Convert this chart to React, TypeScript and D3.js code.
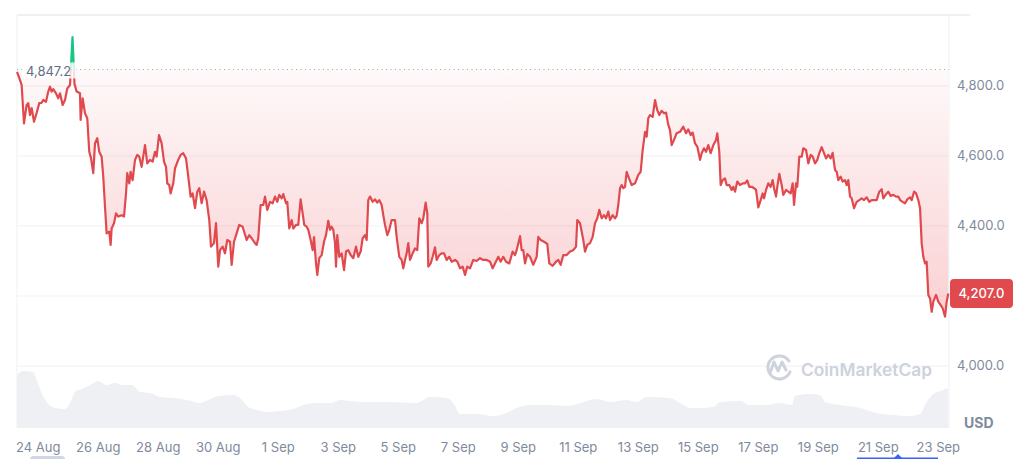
import React from "react";
import * as d3 from "d3";

// [hours since 24 Aug 2025 00:00, price USD]
const PRICE_POINTS: [number, number][] = [
  [-17,4840],[-16,4831],[-13.3,4803],[-11.4,4693],[-9.3,4746],[-8,4751],[-6.6,4717],[-5.3,4737],[-3.4,4698],[-1.3,4723],
  [0.8,4751],[2.7,4752],[4,4760],[6.2,4755],[8,4784],[9.4,4798],[10.7,4784],[12,4791],[14.2,4779],[16,4765],
  [17.4,4779],[19.5,4746],[21.4,4760],[23.2,4793],[25.4,4803],[27.4,4940],[29,4806],[30.7,4784],[33.4,4779],[33.9,4703],
  [35.5,4765],[37.4,4722],[39.2,4708],[40.8,4612],[42.2,4594],[44,4551],[45.4,4636],[47.2,4651],[48.8,4612],[50.7,4598],
  [52,4541],[53.4,4455],[54.7,4379],[56.8,4384],[57.9,4346],[58.7,4393],[60.6,4408],[62.2,4436],[64,4427],[66.7,4431],
  [68.6,4427],[70.2,4493],[71.2,4551],[72.8,4522],[73.9,4555],[75.5,4531],[77.4,4589],[79.2,4603],[80.8,4598],[82.7,4569],
  [85.4,4631],[87.2,4579],[89.4,4589],[91.5,4584],[93.4,4612],[94.7,4598],[96.6,4660],[98.7,4636],[100.6,4584],[102.2,4569],
  [103.2,4522],[104.8,4517],[105.9,4493],[108,4522],[109.4,4565],[112,4589],[113.9,4603],[116,4608],[118.2,4593],[120,4541],
  [121.9,4484],[123.5,4493],[125.4,4451],[127.2,4498],[128.8,4508],[130.7,4465],[132.6,4498],[134.7,4474],[136.8,4417],[138.2,4341],
  [140.6,4351],[142.2,4408],[144,4284],[145.4,4331],[147.5,4341],[149.4,4322],[151.2,4360],[153.4,4355],[154.7,4289],[156.6,4355],
  [158.7,4379],[160.8,4403],[163.5,4398],[166.7,4360],[168.8,4374],[170.7,4365],[173.4,4351],[174.7,4346],[176,4365],[177.9,4460],
  [180,4460],[181.4,4484],[183.2,4446],[185.4,4469],[187.5,4465],[189.4,4484],[191.2,4469],[192.8,4489],[194.7,4479],[196,4491],
  [198.2,4465],[199.2,4469],[200.8,4393],[202.7,4417],[204,4393],[206.2,4403],[208,4403],[209.9,4476],[211.5,4436],[212.8,4403],
  [214.7,4398],[216,4389],[217.9,4360],[219.5,4331],[220.6,4368],[222.2,4293],[223.2,4260],[224.8,4308],[226.7,4317],[228.6,4355],
  [230.2,4374],[232,4415],[233.4,4389],[234.7,4398],[236,4389],[237.4,4351],[238.2,4284],[239.2,4374],[240.8,4312],[242.7,4322],
  [244.6,4274],[246.2,4327],[248,4331],[249.9,4317],[252,4308],[254.2,4341],[256,4312],[257.9,4327],[259.5,4365],[261.4,4374],
  [262.7,4360],[264,4474],[265.4,4484],[267.5,4469],[269.4,4476],[271.2,4467],[272.8,4474],[274.7,4460],[276,4431],[277.4,4403],
  [279.2,4374],[280.8,4389],[282.7,4417],[285.4,4417],[286.7,4369],[288.8,4312],[290.7,4303],[292,4279],[293.4,4303],[294.7,4322],
  [296,4351],[297.4,4303],[299.5,4322],[301.4,4336],[303.2,4331],[304.8,4422],[306.7,4408],[308,4422],[309.9,4467],[311.2,4436],
  [312,4284],[313.9,4293],[315.5,4312],[317.4,4339],[318.7,4303],[320.8,4317],[322.7,4322],[324.6,4322],[326.7,4303],[328.8,4312],
  [330.7,4298],[333.4,4303],[335.2,4298],[337.4,4279],[339.5,4284],[341.4,4260],[343.2,4284],[345.4,4279],[348,4303],[350.7,4300],
  [353.4,4308],[356,4303],[358.7,4303],[361.4,4298],[363.5,4279],[365.4,4293],[368,4312],[369.9,4298],[372,4312],[374.2,4298],
  [376.8,4293],[379.5,4327],[381.4,4317],[382.7,4331],[385.4,4371],[386.7,4331],[388,4331],[389.4,4293],[391.2,4320],[393.4,4312],
  [396,4289],[398.7,4312],[400,4369],[401.9,4360],[404.6,4355],[407.2,4349],[408.8,4293],[411.5,4286],[414.2,4298],[416,4303],
  [417.9,4289],[420,4317],[422.7,4317],[425.4,4327],[428,4331],[430.2,4341],[431.2,4417],[433.4,4408],[436,4360],[437.4,4327],
  [439.2,4346],[441.4,4351],[443.5,4369],[445.4,4408],[447.2,4422],[448.8,4446],[450.7,4422],[452.6,4431],[454.2,4422],[456,4441],
  [457.4,4417],[459.5,4431],[461.4,4422],[462.7,4429],[464,4460],[465.4,4508],[466.7,4517],[468,4508],[469.4,4512],[470.7,4555],
  [472.6,4536],[474.7,4517],[477.4,4522],[480,4546],[481.9,4555],[483.5,4617],[485.4,4669],[486.7,4655],[488,4708],[489.4,4717],
  [491.5,4712],[493.4,4760],[495.2,4731],[496.8,4717],[498.7,4729],[500.6,4722],[502.2,4724],[504,4689],[505.4,4674],[506.7,4631],
  [508.6,4646],[510.7,4665],[513.4,4669],[516,4684],[518.2,4665],[520,4676],[521.9,4660],[523.5,4667],[525.4,4636],[527.2,4627],
  [529.4,4589],[530.7,4608],[532.6,4622],[534.2,4612],[536,4631],[537.9,4608],[540,4631],[542.2,4646],[543.2,4665],[544.8,4612],
  [545.9,4517],[547.5,4531],[549.4,4536],[550.7,4517],[552.8,4517],[554.7,4503],[556,4512],[557.4,4498],[559.2,4527],[561.4,4517],
  [563.5,4522],[565.4,4522],[567.2,4530],[568.8,4512],[570.7,4512],[572.6,4508],[574.2,4503],[576,4453],[577.9,4474],[579.5,4493],
  [580.6,4479],[582.2,4503],[584,4522],[585.9,4512],[587.5,4531],[588.6,4508],[590.2,4484],[591.2,4512],[592.8,4549],[594.7,4517],
  [596,4489],[598.2,4503],[600,4498],[601.9,4493],[603.5,4522],[604.6,4460],[606.2,4522],[607.2,4512],[608.8,4598],[610.7,4598],
  [612,4622],[614.2,4617],[616,4579],[617.9,4603],[619.5,4598],[621.4,4579],[623.2,4589],[624.8,4608],[626.7,4625],[628.6,4608],
  [630.2,4593],[632,4603],[633.9,4593],[635.5,4609],[637.4,4560],[638.7,4555],[640,4531],[641.9,4541],[643.5,4527],[645.4,4531],
  [646.7,4517],[648,4531],[649.4,4484],[650.7,4479],[652.6,4451],[654.7,4469],[656.8,4474],[658.7,4479],[660.6,4474],[662.7,4482],
  [664.8,4469],[666.7,4474],[668.6,4474],[670.7,4474],[672.8,4498],[674.7,4505],[676,4479],[678.2,4491],[680,4498],[681.9,4486],
  [684,4489],[686.2,4484],[688,4484],[689.4,4474],[691.5,4469],[693.4,4465],[695.2,4476],[697.4,4482],[698.7,4474],[700.6,4498],
  [702.2,4493],[704,4474],[705.4,4451],[706.7,4351],[708,4312],[709.4,4293],[710.7,4298],[712,4203],[713.4,4193],[714.7,4155],
  [716,4184],[718.2,4203],[720,4184],[721.9,4174],[723.5,4165],[725.4,4141],[726.7,4184],[728,4207],
];

// [hours since 24 Aug 2025 00:00, relative volume]
const VOLUME_POINTS: [number, number][] = [
  [-17,53],[-12,57],[-4,56],[-1.3,48],[2.7,35],[6.7,26],[13.4,20],[21.4,19],[25.4,25],[29.4,36],
  [34.7,39],[41.4,43],[48,47],[54.7,43],[61.4,45],[68,43],[74.7,43],[81.4,36],[89.4,35],[97.4,31],
  [108,30],[118.7,28],[129.4,25],[137.4,29],[144,32],[156,33],[161.4,30],[168,21],[174.7,18],[182.7,16],
  [193.4,17],[204,19],[212,23],[222.7,25],[233.4,25],[241.4,28],[249.4,27],[265.4,26],[281.4,26],[302.7,25],
  [313.4,31],[326.7,30],[332,25],[337.4,14],[350.7,14],[364,12],[374.7,15],[382.7,20],[393.4,23],[409.4,23],
  [422.7,22],[436,26],[446.7,29],[457.4,26],[470.7,28],[478.7,26],[486.7,31],[505.4,30],[513.4,25],[521.4,20],
  [529.4,20],[540,21],[545.4,26],[561.4,27],[569.4,23],[582.7,23],[593.4,25],[602.7,23],[605.4,32],[617.4,34],
  [625.4,33],[629.4,26],[641.4,23],[657.4,20],[670.7,15],[684,13],[697.4,12],[705.4,14],[710.7,26],[716,34],
  [721.4,37],[728,40],
];

const Y_TICKS = [4000, 4200, 4400, 4600, 4800];
const X_TICK_DATES = [
  "2025-08-24","2025-08-26","2025-08-28","2025-08-30","2025-09-01","2025-09-03","2025-09-05","2025-09-07",
  "2025-09-09","2025-09-11","2025-09-13","2025-09-15","2025-09-17","2025-09-19","2025-09-21","2025-09-23",
];
const OPEN_PRICE = 4847.2;
const LAST_PRICE = 4207.0;
const START = new Date(2025, 7, 24, 0, 0, 0);

const W = 1024;
const H = 459;
const RED = "#e04a4e";
const GREEN = "#16c784";
const GRID = "#eff1f4";
const AXIS_TEXT = "#808a9d";
const FONT = "Inter, 'Noto Sans', sans-serif";

const toDate = (h: number) => new Date(START.getTime() + h * 3600000);
const parseDay = (s: string) => {
  const [y, m, d] = s.split("-").map(Number);
  return new Date(y, m - 1, d);
};

export default function App() {
  const x = d3.scaleTime().domain([toDate(-17), toDate(728)]).range([17, 948.3]);
  const y = d3.scaleLinear().domain([4000, 4800]).range([366, 86]);
  const yVol = d3.scaleLinear().domain([0, 60]).range([428, 368]);
  const baseY = y(OPEN_PRICE);

  const line = d3
    .line<[number, number]>()
    .x((d) => x(toDate(d[0])))
    .y((d) => y(d[1]));
  const area = d3
    .area<[number, number]>()
    .x((d) => x(toDate(d[0])))
    .y0(baseY)
    .y1((d) => y(d[1]));
  const volArea = d3
    .area<[number, number]>()
    .x((d) => x(toDate(d[0])))
    .y0(yVol(0))
    .y1((d) => yVol(d[1]))
    .curve(d3.curveMonotoneX);

  const linePath = line(PRICE_POINTS) || "";
  const areaPath = area(PRICE_POINTS) || "";
  const fmtTick = d3.format(",.1f");
  const fmtDay = d3.timeFormat("%-d %b");
  const lastY = y(LAST_PRICE);

  return (
    <svg
      width={W}
      height={H}
      style={{ position: "absolute", left: 0, top: 0, display: "block" }}
      fontFamily={FONT}
    >
      <defs>
        <clipPath id="clipAbove">
          <rect x={0} y={0} width={W} height={baseY} />
        </clipPath>
        <clipPath id="clipBelow">
          <rect x={0} y={baseY} width={W} height={H - baseY} />
        </clipPath>
        <linearGradient id="redGrad" gradientUnits="userSpaceOnUse" x1={0} y1={baseY} x2={0} y2={320}>
          <stop offset="0" stopColor="#ea3943" stopOpacity={0.03} />
          <stop offset="1" stopColor="#ea3943" stopOpacity={0.24} />
        </linearGradient>
        <linearGradient id="greenGrad" gradientUnits="userSpaceOnUse" x1={0} y1={baseY} x2={0} y2={30}>
          <stop offset="0" stopColor={GREEN} stopOpacity={0.05} />
          <stop offset="1" stopColor={GREEN} stopOpacity={0.3} />
        </linearGradient>
      </defs>

      <rect x={0} y={0} width={W} height={H} fill="#ffffff" />

      {/* volume */}
      <path d={volArea(VOLUME_POINTS) || ""} fill="#eff0f4" />

      {/* frame */}
      <line x1={17} x2={970} y1={15} y2={15} stroke="#e9ebee" strokeWidth={1.5} />
      <line x1={17} x2={17} y1={15} y2={428} stroke={GRID} />
      <line x1={949} x2={949} y1={15} y2={428} stroke={GRID} />

      {/* gridlines */}
      {Y_TICKS.map((t) => (
        <line key={t} x1={17} x2={949} y1={y(t)} y2={y(t)} stroke={GRID} strokeWidth={1} />
      ))}

      {/* watermark */}
      <g fill="none" stroke="#cdd2dc" strokeWidth={3} strokeLinecap="round" strokeLinejoin="round">
        <path d={`M ${790} ${372} A 11.5 11.5 0 1 1 ${789} ${361}`} />
        <path d={`M ${770} ${373} L ${774} ${362} L ${778} ${371} L ${782} ${362} L ${786} ${370}`} />
      </g>
      <text
        x={801}
        y={376}
        fontSize={17}
        fontWeight={600}
        fill="#cdd2dc"
        textLength={131}
        lengthAdjust="spacingAndGlyphs"
      >
        CoinMarketCap
      </text>

      {/* areas */}
      <path d={areaPath} fill="url(#redGrad)" clipPath="url(#clipBelow)" />
      <path d={areaPath} fill="url(#greenGrad)" clipPath="url(#clipAbove)" />

      {/* open price dotted line */}
      <line
        x1={17}
        x2={949}
        y1={baseY}
        y2={baseY}
        stroke="#9aa3b3"
        strokeWidth={1}
        strokeDasharray="1 3.5"
      />

      {/* price line */}
      <path d={linePath} fill="none" stroke={RED} strokeWidth={2.2} strokeLinejoin="round" clipPath="url(#clipBelow)" />
      <path d={linePath} fill="none" stroke={GREEN} strokeWidth={2.2} strokeLinejoin="round" clipPath="url(#clipAbove)" />

      {/* open price label */}
      <rect x={22} y={baseY - 7} width={54} height={16} fill="#ffffff" opacity={0.8} />
      <text x={26} y={baseY + 2.5} fontSize={13} fill="#616e85" dominantBaseline="middle">
        {fmtTick(OPEN_PRICE)}
      </text>

      {/* right axis */}
      {Y_TICKS.map((t) => (
        <text key={t} x={957} y={y(t)} fontSize={13} fill={AXIS_TEXT} dominantBaseline="middle">
          {fmtTick(t)}
        </text>
      ))}
      <text x={964} y={428} fontSize={14} fontWeight={700} fill={AXIS_TEXT}>
        USD
      </text>

      {/* last price badge */}
      <rect x={950} y={lastY - 14.5} width={63} height={29} rx={4} fill={RED} />
      <text
        x={981.5}
        y={lastY + 0.5}
        fontSize={13}
        fill="#ffffff"
        textAnchor="middle"
        dominantBaseline="middle"
        fontWeight={500}
      >
        {fmtTick(LAST_PRICE)}
      </text>

      {/* x axis labels */}
      {X_TICK_DATES.map((s) => {
        const d = parseDay(s);
        return (
          <text key={s} x={x(d)} y={451.5} fontSize={13} fill={AXIS_TEXT} textAnchor="middle">
            {fmtDay(d)}
          </text>
        );
      })}

      {/* range slider hints */}
      <rect x={30} y={456} width={35} height={7} rx={3.5} fill="#cfd6e4" />
      <line x1={857} x2={938} y1={458.5} y2={458.5} stroke="#3861fb" strokeWidth={2} />
      <path d="M 893 459 L 898 454 L 903 459 Z" fill="#3861fb" />
    </svg>
  );
}
